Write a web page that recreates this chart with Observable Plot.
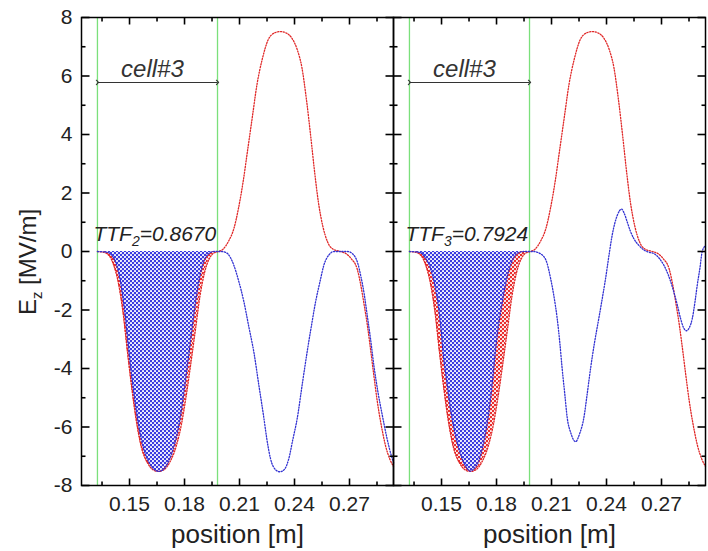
<!DOCTYPE html>
<html><head><meta charset="utf-8">
<script src="https://cdn.jsdelivr.net/npm/d3@7"></script>
<script src="https://cdn.jsdelivr.net/npm/@observablehq/plot@0.6"></script>
<style>
body{margin:0;background:#fff;}
#chart{width:708px;height:551px;}
</style></head><body>
<svg width="0" height="0" style="position:absolute">
<defs>
<pattern id="hatchBlue" patternUnits="userSpaceOnUse" width="4" height="4">
<rect width="4" height="4" fill="#3a3ae0"/>
<circle cx="1" cy="1" r="1.05" fill="#fff"/>
<circle cx="3" cy="3" r="1.05" fill="#fff"/>
</pattern>
<pattern id="hatchRed" patternUnits="userSpaceOnUse" width="4" height="4">
<rect width="4" height="4" fill="#e82e2e"/>
<circle cx="1" cy="1" r="1.05" fill="#fff"/>
<circle cx="3" cy="3" r="1.05" fill="#fff"/>
</pattern>
</defs></svg>
<div id="chart"></div>
<script>
// ---- data ----
const panels = [1, 2];
const redX = [0.1325,0.1370,0.1410,0.1440,0.1465,0.1490,0.1515,0.1540,0.1565,0.1600,0.1630,0.1658,0.1690,0.1720,0.1755,0.1785,0.1810,0.1835,0.1860,0.1885,0.1910,0.1935,0.1960,0.1985,0.2010,0.2040,0.2070,0.2095,0.2120,0.2145,0.2170,0.2195,0.2225,0.2255,0.2290,0.2322,0.2355,0.2385,0.2415,0.2440,0.2465,0.2490,0.2510,0.2530,0.2555,0.2580,0.2610,0.2650,0.2680,0.2710,0.2742,0.2760,0.2778,0.2797,0.2815,0.2833,0.2851,0.2875,0.2897,0.2920,0.2940];
const redE = [0,-0.05,-0.4,-1.1,-2.1,-3.5,-4.8,-5.9,-6.7,-7.25,-7.47,-7.52,-7.45,-7.2,-6.65,-5.85,-4.9,-3.8,-2.65,-1.5,-0.7,-0.25,-0.05,0,0.08,0.35,0.8,1.5,2.4,3.5,4.6,5.7,6.6,7.22,7.47,7.52,7.47,7.3,6.9,6.3,5.2,3.85,2.7,1.7,0.85,0.33,0.08,0,-0.07,-0.25,-0.6,-1.1,-1.75,-2.5,-3.35,-4.25,-5.1,-6.0,-6.65,-7.1,-7.35];
const blueLX = [0.1325,0.1380,0.1420,0.1450,0.1475,0.1500,0.1525,0.1550,0.1580,0.1610,0.1635,0.1658,0.1685,0.1715,0.1745,0.1772,0.1797,0.1822,0.1847,0.1872,0.1897,0.1925,0.1960,0.2000,0.2030,0.2069,0.2095,0.2124,0.2150,0.2178,0.2205,0.2233,0.2250,0.2269,0.2295,0.2320,0.2345,0.2369,0.2390,0.2415,0.2442,0.2469,0.2492,0.2515,0.2540,0.2560,0.2590,0.2615,0.2650,0.2690,0.2720,0.2745,0.2762,0.2780,0.2797,0.2815,0.2833,0.2855,0.2879,0.2905,0.2933,0.2942];
const blueLE = [0,-0.03,-0.3,-1.0,-2.1,-3.6,-4.9,-5.95,-6.8,-7.25,-7.45,-7.52,-7.45,-7.15,-6.6,-5.85,-4.8,-3.6,-2.35,-1.25,-0.5,-0.12,0,0,-0.05,-0.47,-1.0,-1.72,-2.55,-3.43,-4.55,-5.7,-6.45,-7.08,-7.45,-7.53,-7.45,-7.08,-6.45,-5.7,-4.55,-3.43,-2.55,-1.72,-1.0,-0.47,-0.1,0,0,0,-0.1,-0.4,-0.85,-1.45,-2.2,-3.0,-3.9,-4.8,-5.6,-6.4,-7.08,-7.25];
const blueRX = [0.1325,0.1380,0.1415,0.1438,0.1462,0.1484,0.1498,0.1511,0.1530,0.1547,0.1570,0.1593,0.1620,0.1640,0.1657,0.1677,0.1700,0.1724,0.1743,0.1762,0.1777,0.1791,0.1807,0.1827,0.1850,0.1872,0.1895,0.1915,0.1950,0.2000,0.2040,0.2070,0.2095,0.2115,0.2131,0.2145,0.2158,0.2172,0.2186,0.2205,0.2231,0.2255,0.2276,0.2295,0.2313,0.2335,0.2358,0.2377,0.2395,0.2413,0.2431,0.2459,0.2482,0.2497,0.2513,0.2530,0.2549,0.2575,0.2604,0.2630,0.2658,0.2690,0.2713,0.2740,0.2767,0.2787,0.2804,0.2820,0.2835,0.2852,0.2868,0.2882,0.2895,0.2910,0.2922,0.2940];
const blueRE = [0,-0.03,-0.25,-0.54,-1.1,-1.9,-2.7,-3.6,-4.5,-5.3,-6.1,-6.7,-7.2,-7.42,-7.51,-7.42,-7.2,-6.7,-6.1,-5.3,-4.5,-3.6,-2.7,-1.9,-1.1,-0.54,-0.2,-0.05,0,0,-0.08,-0.3,-0.92,-1.6,-2.29,-3.1,-4.0,-4.85,-5.7,-6.2,-6.5,-6.2,-5.7,-4.85,-4.0,-3.1,-2.29,-1.6,-0.92,-0.15,0.56,1.24,1.45,1.3,1.01,0.7,0.44,0.22,0.05,-0.02,-0.07,-0.25,-0.47,-0.85,-1.38,-1.85,-2.29,-2.6,-2.71,-2.6,-2.29,-1.75,-1.15,-0.55,0,0.2];
const cellEdges = [0.1325, 0.198];
const ttfLabels = ["TTF2=0.8670", "TTF3=0.7924"];
const cellLabel = "cell#3";
const xMajor = [0.15, 0.18, 0.21, 0.24, 0.27];
const xMinor = [0.135, 0.165, 0.195, 0.225, 0.255, 0.285];
const yMajor = [-8, -6, -4, -2, 0, 2, 4, 6, 8];
const yMinor = [-7, -5, -3, -1, 1, 3, 5, 7];

// ---- tables ----
const red = [], blue = [];
for (const p of panels) redX.forEach((x, i) => red.push({panel: p, x, E: redE[i]}));
blueLX.forEach((x, i) => blue.push({panel: 1, x, E: blueLE[i]}));
blueRX.forEach((x, i) => blue.push({panel: 2, x, E: blueRE[i]}));
const inCell = d => d.x <= cellEdges[1] + 0.0006;
const ttf = panels.map((p, i) => ({panel: p, label: ttfLabels[i]}));

// ---- layout ----
const W = 708, H = 551, mL = 81, mR = 3, mT = 17, mB = 66;
const xDom = [0.1238, 0.2940], yDom = [-8, 8];
const innerH = H - mT - mB;
const facetW = (W - mL - mR) / panels.length;
const pxX = (xDom[1] - xDom[0]) / facetW;
const pxY = (yDom[1] - yDom[0]) / innerH;
const ink = "#222";

// inward tick segments along every frame edge (repeated in each panel)
const tickRows = [];
for (const [vals, len] of [[xMajor, 7], [xMinor, 4]]) for (const v of vals) {
  tickRows.push({x1: v, x2: v, y1: yDom[0], y2: yDom[0] + len * pxY});
  tickRows.push({x1: v, x2: v, y1: yDom[1], y2: yDom[1] - len * pxY});
}
for (const [vals, len] of [[yMajor, 8], [yMinor, 4]]) for (const v of vals) {
  tickRows.push({x1: xDom[0], x2: xDom[0] + len * pxX, y1: v, y2: v});
  tickRows.push({x1: xDom[1], x2: xDom[1] - len * pxX, y1: v, y2: v});
}

const plot = Plot.plot({
  width: W, height: H,
  marginLeft: mL, marginRight: mR, marginTop: mT, marginBottom: mB,
  style: {fontFamily: "'Liberation Sans', Arial, sans-serif", background: "#fff", color: ink},
  fx: {domain: panels, axis: null, padding: 0},
  x: {domain: xDom, axis: null},
  y: {domain: yDom, axis: null},
  marks: [
    Plot.ruleX(cellEdges, {stroke: "#7be07b", strokeWidth: 1.3}),
    Plot.areaY(red.filter(inCell), {fx: "panel", x: "x", y: "E", fill: "url(#hatchRed)", curve: "monotone-x"}),
    Plot.areaY(blue.filter(inCell), {fx: "panel", x: "x", y: "E", fill: "url(#hatchBlue)", curve: "monotone-x"}),
    Plot.line(red, {fx: "panel", x: "x", y: "E", stroke: "#e02828", strokeWidth: 1.3, strokeDasharray: "1.2,1.6", curve: "monotone-x"}),
    Plot.line(blue, {fx: "panel", x: "x", y: "E", stroke: "#3232d2", strokeWidth: 1.3, strokeDasharray: "1.2,1.6", curve: "monotone-x"}),
    Plot.link([cellLabel], {x1: cellEdges[0], x2: cellEdges[1], y1: 5.78, y2: 5.78, stroke: "#333", strokeWidth: 1.1, markerStart: "arrow", markerEnd: "arrow"}),
    Plot.text([cellLabel], {x: 0.1625, y: 5.95, text: d => d, lineAnchor: "bottom", fontSize: 24, fontStyle: "italic", fill: "#333"}),
    Plot.text(ttf, {fx: "panel", x: 0.1303, y: 0.35, text: "label", textAnchor: "start", lineAnchor: "bottom", fontSize: 21, fontStyle: "italic", fill: ink}),
    Plot.link(tickRows, {x1: "x1", x2: "x2", y1: "y1", y2: "y2", stroke: "#000", strokeWidth: 1.6}),
    Plot.frame({stroke: "#000", strokeWidth: 1.5}),
    Plot.axisX({anchor: "bottom", ticks: xMajor, tickSize: 0, tickPadding: 11, tickFormat: d => d.toFixed(2), fontSize: 21, label: null, fill: ink}),
    Plot.axisY({anchor: "left", ticks: yMajor, tickSize: 0, tickPadding: 9, tickFormat: d => String(d), fontSize: 21, label: null, fill: ink}),
    Plot.text(["position [m]"], {frameAnchor: "bottom", dy: 39, lineAnchor: "top", text: d => d, fontSize: 26, fill: ink})
  ]
});

const svg = d3.select(plot);
svg.selectAll("text").each(function () {
  const m = /^TTF(\d)=(.*)$/.exec(this.textContent);
  if (!m) return;
  const s = d3.select(this);
  s.text(null);
  s.append("tspan").text("TTF");
  s.append("tspan").attr("dy", 5).attr("font-size", 14).text(m[1]);
  s.append("tspan").attr("dy", -5).text("=" + m[2]);
});
const yl = svg.append("text")
  .attr("transform", `translate(36,${mT + innerH / 2 + 11}) rotate(-90)`)
  .attr("text-anchor", "middle")
  .attr("font-size", 24).attr("fill", ink);
yl.append("tspan").text("E");
yl.append("tspan").attr("dy", 6).attr("font-size", 15).text("z");
yl.append("tspan").attr("dy", -6).text(" [MV/m]");

document.getElementById("chart").appendChild(plot);
</script>
</body></html>
